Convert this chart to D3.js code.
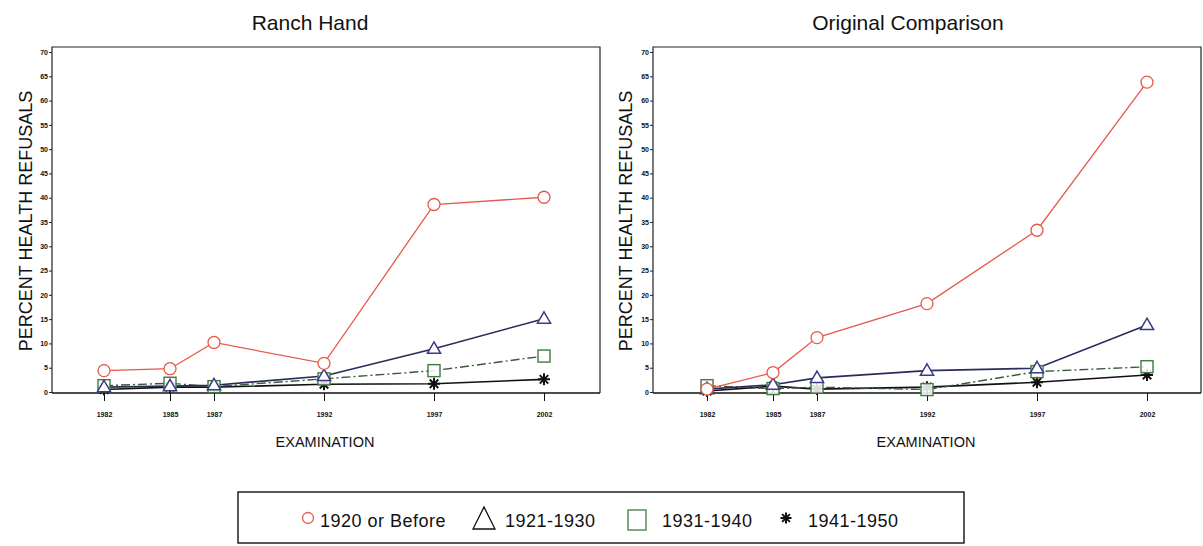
<!DOCTYPE html>
<html><head><meta charset="utf-8">
<script src="https://cdn.jsdelivr.net/npm/d3@7"></script>
<style>body{margin:0;background:#fff}svg{display:block}</style>
</head><body>
<script>
const years = [1982, 1985, 1987, 1992, 1997, 2002];
const yTicks = [0,5,10,15,20,25,30,35,40,45,50,55,60,65,70];
const seriesNames = ["1920 or Before", "1921-1930", "1931-1940", "1941-1950"];
const panelTitles = ["Ranch Hand", "Original Comparison"];
// Ranch Hand
const rh1920 = [4.4, 4.8, 10.2, 5.9, 38.6, 40.1];
const rh1921 = [1.0, 1.2, 1.4, 3.3, 8.9, 15.1];
const rh1931 = [1.3, 1.8, 1.1, 2.7, 4.4, 7.4];
const rh1941 = [0.5, 1.0, 1.0, 1.6, 1.7, 2.6];
// Original Comparison
const oc1920 = [0.6, 4.0, 11.2, 18.2, 33.3, 63.8];
const oc1921 = [0.6, 1.5, 2.9, 4.4, 4.9, 13.8];
const oc1931 = [1.3, 0.7, 1.0, 0.5, 4.2, 5.2];
const oc1941 = [0.2, 1.2, 0.6, 1.0, 2.0, 3.5];

const W = 1203, H = 546;
const svg = d3.select("body").append("svg").attr("width", W).attr("height", H)
  .style("font-family", "'Liberation Sans', Arial, sans-serif");

const styles = [
  {line:"#e8584a", marker:"circle", mstroke:"#e8584a", dash:null, width:1.3},
  {line:"#2a2a5c", marker:"triangle", mstroke:"#3b3b8a", dash:null, width:1.6},
  {line:"#3a5a3a", marker:"square", mstroke:"#3f7a3f", dash:"9,3,2,3", width:1.4},
  {line:"#111", marker:"star", mstroke:"#111", dash:null, width:1.6}
];

function drawMarker(g, type, x, y, color, s) {
  if (type === "circle") {
    g.append("circle").attr("cx", x).attr("cy", y).attr("r", s*0.5)
      .attr("fill", "#fff").attr("stroke", color).attr("stroke-width", 1.3);
  } else if (type === "triangle") {
    const h = s*0.95;
    g.append("path").attr("d", `M${x},${y-h*0.6}L${x+s*0.55},${y+h*0.4}L${x-s*0.55},${y+h*0.4}Z`)
      .attr("fill", "#fff").attr("stroke", color).attr("stroke-width", 1.5);
  } else if (type === "square") {
    g.append("rect").attr("x", x-s*0.5).attr("y", y-s*0.5).attr("width", s).attr("height", s)
      .attr("fill", "#fff").attr("fill-opacity", 0.85).attr("stroke", color).attr("stroke-width", 1.4);
  } else {
    let d = "";
    for (let i = 0; i < 4; i++) {
      const a = i*Math.PI/4;
      const dx = Math.cos(a)*s*0.5, dy = Math.sin(a)*s*0.5;
      d += `M${x-dx},${y-dy}L${x+dx},${y+dy}`;
    }
    g.append("path").attr("d", d).attr("stroke", color).attr("stroke-width", 2).attr("fill", "none");
  }
}

const panels = [
  {title: panelTitles[0], data:[rh1920, rh1921, rh1931, rh1941], left:52, right:600, x0:104, x1:544, titleX:310, ylabX:32, xlabX:325},
  {title: panelTitles[1], data:[oc1920, oc1921, oc1931, oc1941], left:653, right:1201, x0:707, x1:1147, titleX:908, ylabX:632, xlabX:926}
];
const frameTop = 47, frameBottom = 393;

panels.forEach(p => {
  const g = svg.append("g");
  const x = d3.scaleLinear().domain([1982, 2002]).range([p.x0, p.x1]);
  const y = d3.scaleLinear().domain([0, 70]).range([392, 52]);

  g.append("path").attr("d", `M${p.left},${frameBottom}V${frameTop}H${p.right}V${frameBottom}`)
    .attr("fill", "none").attr("stroke", "#222").attr("stroke-width", 1.2);

  const ya = g.append("g").attr("transform", `translate(${p.left},0)`)
    .call(d3.axisLeft(y).tickValues(yTicks).tickSize(3).tickPadding(1));
  ya.select(".domain").remove();
  ya.selectAll("line").attr("stroke", "#222");
  ya.selectAll("text").attr("font-size", 7).attr("font-weight", "bold").attr("fill", "#111");

  const xa = g.append("g").attr("transform", `translate(0,${frameBottom})`)
    .call(d3.axisBottom(x).tickValues(years).tickFormat(d3.format("d")).tickSize(8).tickPadding(11));
  xa.select(".domain").attr("d", `M${p.left},0H${p.right}`).attr("stroke", "#111").attr("stroke-width", 1.6);
  xa.selectAll("line").attr("stroke", "#111");
  xa.selectAll("text").attr("font-size", 7).attr("font-weight", "bold").attr("fill", "#111");

  g.append("text").attr("x", p.titleX).attr("y", 30).attr("text-anchor", "middle")
    .attr("font-size", 21).attr("fill", "#111").text(p.title);
  g.append("text").attr("x", p.xlabX).attr("y", 447).attr("text-anchor", "middle")
    .attr("font-size", 14.5).attr("fill", "#111").text("EXAMINATION");
  g.append("text").attr("transform", `translate(${p.ylabX},221) rotate(-90)`).attr("text-anchor", "middle")
    .attr("font-size", 18).attr("fill", "#111").text("PERCENT HEALTH REFUSALS");

  [3,2,1,0].forEach(si => {
    const st = styles[si];
    const vals = p.data[si];
    const line = d3.line().x((d,i) => x(years[i])).y(d => y(d));
    g.append("path").datum(vals).attr("d", line).attr("fill", "none")
      .attr("stroke", st.line).attr("stroke-width", st.width)
      .attr("stroke-dasharray", st.dash);
  });
  [3,2,1,0].forEach(si => {
    const st = styles[si];
    p.data[si].forEach((v,i) => drawMarker(g, st.marker, x(years[i]), y(v), st.mstroke, 12));
  });
});

const lg = svg.append("g");
lg.append("rect").attr("x", 238).attr("y", 492).attr("width", 726).attr("height", 51)
  .attr("fill", "#fff").attr("stroke", "#111").attr("stroke-width", 1.4);
const legendItems = [
  {mx:308, tx:320, s:11, color:"#e8584a"},
  {mx:484, tx:505, s:22, color:"#111"},
  {mx:637, tx:662, s:18, color:"#3f7a3f"},
  {mx:786, tx:808, s:11, color:"#111"}
];
legendItems.forEach((it, i) => {
  if (styles[i].marker === "square") {
    lg.append("rect").attr("x", it.mx - 9).attr("y", 510).attr("width", 18).attr("height", 20)
      .attr("fill", "none").attr("stroke", it.color).attr("stroke-width", 1.3);
  } else if (styles[i].marker === "triangle") {
    lg.append("path").attr("d", `M${it.mx},507L${it.mx+11},529L${it.mx-11},529Z`)
      .attr("fill", "none").attr("stroke", it.color).attr("stroke-width", 1.3);
  } else {
    drawMarker(lg, styles[i].marker, it.mx, 518, it.color, it.s);
  }
  lg.append("text").attr("x", it.tx).attr("y", 527).attr("font-size", 18)
    .attr("letter-spacing", 0.5).attr("fill", "#111").text(seriesNames[i]);
});
</script>
</body></html>
